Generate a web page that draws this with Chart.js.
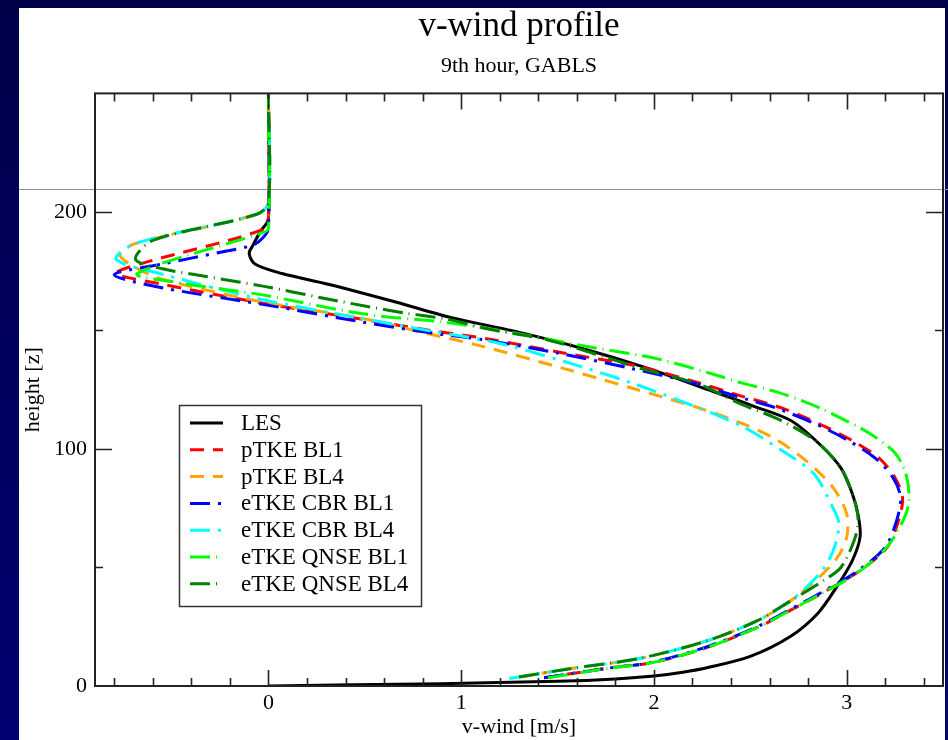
<!DOCTYPE html>
<html>
<head>
<meta charset="utf-8">
<title>v-wind profile</title>
<script src="https://cdn.jsdelivr.net/npm/chart.js@4.4.1/dist/chart.umd.min.js"></script>
<style>
  html, body { margin: 0; padding: 0; }
  body { width: 948px; height: 740px; overflow: hidden; background: linear-gradient(#00004a, #000072); }
  #chart { position: absolute; left: 0; top: 0; }
</style>
</head>
<body>
<canvas id="chart" width="948" height="740"></canvas>
<script>
// heights [z] and v-wind [m/s] for each run
const zLes = [0, 1, 2, 3, 4.2, 5.8, 7.8, 12.5, 21, 30.6, 42, 53, 63, 72, 81, 92, 102, 112, 118, 125, 134, 142.6, 149.8, 155.4, 162, 169.5, 174, 178, 182.5, 186, 192, 197, 250];
const vLes = [0, 0.89, 1.5, 1.8, 2.0, 2.15, 2.28, 2.5, 2.71, 2.85, 2.95, 3.03, 3.07, 3.06, 3.03, 2.97, 2.86, 2.71, 2.52, 2.28, 1.97, 1.62, 1.27, 0.95, 0.66, 0.31, 0.07, -0.07, -0.10, -0.08, -0.04, 0, 0];

const zPtkeBl1 = [3.5, 7.5, 10, 16.4, 24.8, 32, 39.5, 48.7, 58.5, 70, 79.5, 88, 96, 103.5, 110.5, 117.4, 122.4, 128, 135, 140.5, 146.4, 150, 154.7, 161.5, 169.5, 174, 178, 192.5, 198, 250];
const vPtkeBl1 = [1.43, 1.76, 2.0, 2.28, 2.54, 2.71, 2.88, 3.07, 3.21, 3.27, 3.29, 3.25, 3.17, 3.03, 2.86, 2.66, 2.45, 2.23, 1.91, 1.53, 1.14, 0.84, 0.49, -0.03, -0.55, -0.79, -0.67, -0.03, 0, 0];

const zPtkeBl4 = [3.8, 7.5, 11.7, 19.2, 27.7, 36, 45.3, 54, 62.6, 72.6, 83.7, 95, 104.7, 111, 117.4, 125.8, 134, 143.5, 148.4, 155, 162, 171.6, 177, 182, 186.7, 199, 204, 250];
const vPtkeBl4 = [1.30, 1.58, 1.93, 2.28, 2.54, 2.71, 2.85, 2.95, 3.0, 3.0, 2.93, 2.79, 2.62, 2.45, 2.23, 1.88, 1.53, 1.10, 0.84, 0.49, -0.03, -0.55, -0.70, -0.77, -0.69, -0.06, 0, 0];

const zCbrBl1 = [3.5, 7.5, 10, 16.4, 24.8, 32, 39.5, 48.7, 58.5, 70, 79.5, 88, 96, 103.5, 110.5, 117.4, 122.4, 128, 134, 140.5, 146, 149, 153.5, 161, 168, 173.5, 178, 183, 186, 189, 193, 250];
const vCbrBl1 = [1.43, 1.76, 1.99, 2.27, 2.53, 2.70, 2.87, 3.06, 3.20, 3.26, 3.28, 3.24, 3.15, 3.01, 2.84, 2.63, 2.42, 2.20, 1.88, 1.50, 1.12, 0.84, 0.49, -0.03, -0.55, -0.80, -0.55, -0.25, -0.08, -0.03, 0, 0];

const zCbrBl4 = [3.2, 7.5, 11.7, 19.2, 27.7, 36, 47.4, 57, 68.5, 75, 89.5, 99, 109, 117.4, 128, 137, 144.7, 149.8, 155, 163, 173.7, 180, 186.7, 199, 204, 250];
const vCbrBl4 = [1.25, 1.58, 1.93, 2.28, 2.54, 2.71, 2.86, 2.93, 2.96, 2.93, 2.83, 2.67, 2.47, 2.23, 1.88, 1.53, 1.19, 0.84, 0.49, -0.03, -0.55, -0.79, -0.69, -0.06, 0, 0];

const zQnseBl1 = [3.5, 7.5, 10, 16.4, 24.8, 32, 39.5, 45.8, 53.8, 62, 76, 88.7, 98.4, 107, 113, 117, 120, 124, 128, 131, 138, 142.7, 149, 153.3, 157, 165, 167, 170, 174, 191, 193, 250];
const vQnseBl1 = [1.45, 1.77, 2.0, 2.28, 2.54, 2.71, 2.88, 3.02, 3.15, 3.24, 3.32, 3.31, 3.25, 3.11, 2.97, 2.87, 2.78, 2.64, 2.45, 2.33, 2.02, 1.69, 1.27, 0.93, 0.49, -0.03, -0.2, -0.45, -0.68, -0.04, 0, 0];

const zQnseBl4 = [3.8, 7.5, 11.7, 19.2, 27.7, 36, 44.5, 50, 61.6, 70, 81, 92, 102.7, 112, 119, 127.4, 134, 138.4, 146, 150.6, 154.7, 157.3, 160, 163.7, 168.7, 173, 176, 180, 188, 199, 204, 250];
const vQnseBl4 = [1.30, 1.58, 1.93, 2.28, 2.54, 2.71, 2.88, 2.97, 3.04, 3.06, 3.03, 2.97, 2.85, 2.66, 2.45, 2.23, 1.93, 1.76, 1.45, 1.14, 0.93, 0.71, 0.52, 0.28, -0.03, -0.34, -0.55, -0.69, -0.60, -0.06, 0, 0];

const labels = ['LES', 'pTKE BL1', 'pTKE BL4', 'eTKE CBR BL1', 'eTKE CBR BL4', 'eTKE QNSE BL1', 'eTKE QNSE BL4'];
const xTickValues = [0, 1, 2, 3];
const yTickValues = [0, 100, 200];

const serif = "'Liberation Serif', 'Times New Roman', serif";

function profile(z, v) {
    return z.map((h, i) => ({ x: v[i], y: h }));
}

// later runs are drawn over earlier ones
const datasets = [
    { label: labels[0], data: profile(zLes, vLes), borderColor: '#000000', borderDash: [], order: 7 },
    { label: labels[1], data: profile(zPtkeBl1, vPtkeBl1), borderColor: '#ff0000', borderDash: [14, 9], order: 6 },
    { label: labels[2], data: profile(zPtkeBl4, vPtkeBl4), borderColor: '#ffa500', borderDash: [14, 9], order: 5 },
    { label: labels[3], data: profile(zCbrBl1, vCbrBl1), borderColor: '#0000ff', borderDash: [20, 8, 3, 8], order: 4 },
    { label: labels[4], data: profile(zCbrBl4, vCbrBl4), borderColor: '#00ffff', borderDash: [20, 8, 3, 8], order: 3 },
    { label: labels[5], data: profile(zQnseBl1, vQnseBl1), borderColor: '#00ff00', borderDash: [20, 6, 1, 6], order: 2 },
    { label: labels[6], data: profile(zQnseBl4, vQnseBl4), borderColor: '#008000', borderDash: [20, 6, 1, 6], order: 1 }
];

// white slide panel and the thin rule across it
const slidePanel = {
    id: 'slidePanel',
    beforeDraw(chart) {
        const ctx = chart.ctx;
        ctx.save();
        ctx.fillStyle = '#ffffff';
        ctx.fillRect(19, 8, 926, 732);
        ctx.restore();
    },
    beforeDatasetsDraw(chart) {
        const ctx = chart.ctx;
        ctx.save();
        ctx.strokeStyle = '#8a8aaa';
        ctx.lineWidth = 1;
        ctx.beginPath();
        ctx.moveTo(19, 189.5);
        ctx.lineTo(948, 189.5);
        ctx.stroke();
        ctx.restore();
    }
};

// box frame with inward ticks on all four sides
const frameTicks = {
    id: 'frameTicks',
    afterDatasetsDraw(chart) {
        const { ctx, chartArea: a, scales: { x, y } } = chart;
        ctx.save();
        ctx.strokeStyle = '#222222';
        ctx.lineWidth = 2;
        ctx.strokeRect(a.left, a.top, a.right - a.left, a.bottom - a.top);
        ctx.lineWidth = 1.6;
        ctx.beginPath();
        for (let i = -4; i <= 17; i++) {
            const px = Math.round(x.getPixelForValue(i * 0.2)) + 0.5;
            const len = i % 5 === 0 ? 16 : 8;
            ctx.moveTo(px, a.bottom); ctx.lineTo(px, a.bottom - len);
            ctx.moveTo(px, a.top); ctx.lineTo(px, a.top + len);
        }
        for (let z = 50; z < 250; z += 50) {
            const py = Math.round(y.getPixelForValue(z)) + 0.5;
            const len = z % 100 === 0 ? 17 : 8;
            ctx.moveTo(a.left, py); ctx.lineTo(a.left + len, py);
            ctx.moveTo(a.right, py); ctx.lineTo(a.right - len, py);
        }
        ctx.stroke();
        ctx.restore();
    }
};

// legend box inside the plot
const boxLegend = {
    id: 'boxLegend',
    afterDraw(chart) {
        const ctx = chart.ctx;
        const left = 179.5, top = 405.5, w = 242, h = 201;
        ctx.save();
        ctx.fillStyle = '#ffffff';
        ctx.fillRect(left, top, w, h);
        ctx.strokeStyle = '#333333';
        ctx.lineWidth = 1.5;
        ctx.strokeRect(left, top, w, h);
        ctx.font = '23px ' + serif;
        ctx.textBaseline = 'middle';
        chart.data.datasets.forEach((ds, i) => {
            const yy = 423 + i * 26.8;
            ctx.strokeStyle = ds.borderColor;
            ctx.lineWidth = 3;
            ctx.setLineDash(ds.borderDash);
            ctx.beginPath();
            ctx.moveTo(190, yy);
            ctx.lineTo(223, yy);
            ctx.stroke();
            ctx.setLineDash([]);
            ctx.fillStyle = '#000000';
            ctx.fillText(ds.label, 241, yy + 1);
        });
        ctx.restore();
    }
};

new Chart(document.getElementById('chart'), {
    type: 'line',
    data: { datasets: datasets },
    options: {
        responsive: false,
        animation: false,
        indexAxis: 'y',
        layout: { padding: { left: 0, top: 0, right: 5, bottom: 0 } },
        elements: {
            point: { radius: 0, hoverRadius: 0 },
            line: { borderWidth: 3, tension: 0.3, fill: false, borderCapStyle: 'butt' }
        },
        plugins: {
            legend: { display: false },
            tooltip: { enabled: false },
            title: {
                display: true,
                text: 'v-wind profile',
                fullSize: false,
                color: '#000000',
                font: { family: serif, size: 35, weight: 'normal' },
                padding: { top: 6, bottom: 0 }
            },
            subtitle: {
                display: true,
                text: '9th hour, GABLS',
                fullSize: false,
                color: '#000000',
                font: { family: serif, size: 22, weight: 'normal' },
                padding: { top: 5, bottom: 14 }
            }
        },
        scales: {
            x: {
                type: 'linear',
                position: 'bottom',
                min: -0.9,
                max: 3.5,
                grid: { display: false, drawTicks: false },
                border: { display: false },
                afterBuildTicks: s => { s.ticks = xTickValues.map(v => ({ value: v })); },
                afterFit: s => { s.height = 54; },
                ticks: { padding: 4, color: '#000000', autoSkip: false, maxRotation: 0, font: { family: serif, size: 22 } },
                title: {
                    display: true,
                    text: 'v-wind [m/s]',
                    color: '#000000',
                    font: { family: serif, size: 22 },
                    padding: { top: 0, bottom: 0 }
                }
            },
            y: {
                type: 'linear',
                position: 'left',
                min: 0,
                max: 250,
                grid: { display: false, drawTicks: false },
                border: { display: false },
                afterBuildTicks: s => { s.ticks = yTickValues.map(v => ({ value: v })); },
                afterFit: s => { s.width = 95; },
                ticks: { padding: 8, color: '#000000', autoSkip: false, font: { family: serif, size: 22 } },
                title: {
                    display: true,
                    text: 'height [z]',
                    color: '#000000',
                    font: { family: serif, size: 22 },
                    padding: { top: 20, bottom: 0 }
                }
            }
        }
    },
    plugins: [slidePanel, frameTicks, boxLegend]
});
</script>
</body>
</html>
